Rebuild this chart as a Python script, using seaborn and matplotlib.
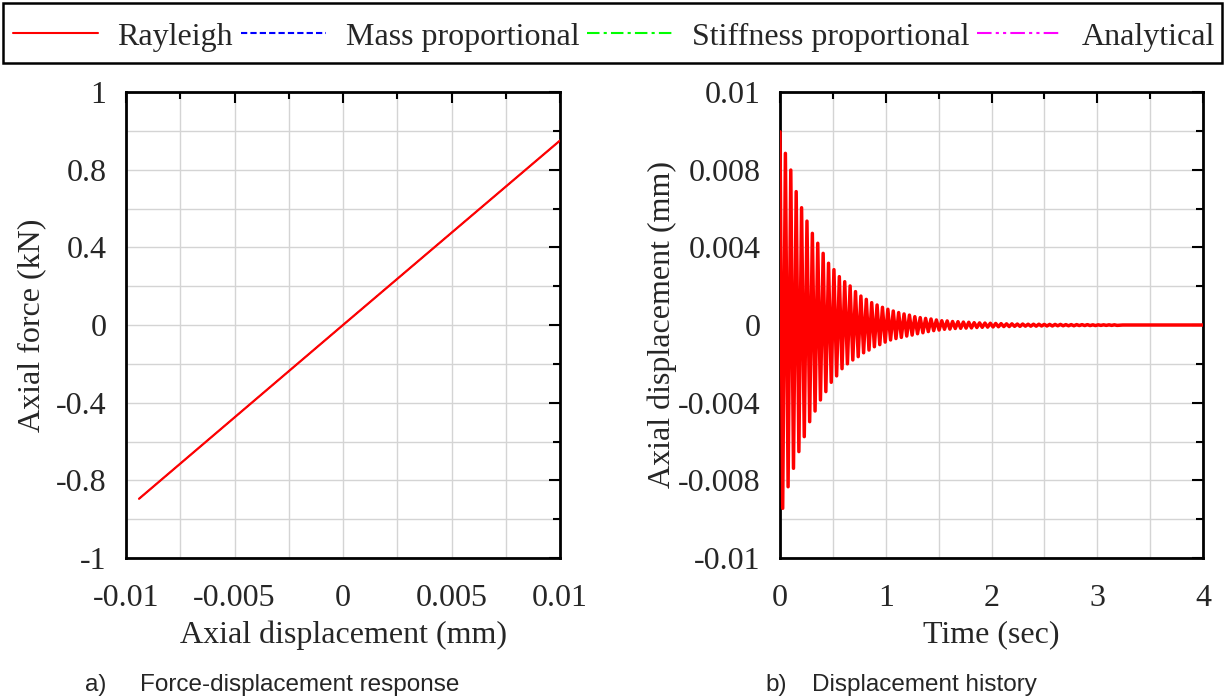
import numpy as np
import pandas as pd
import matplotlib
matplotlib.use("Agg")
import matplotlib.pyplot as plt
import seaborn as sns
from matplotlib.ticker import MultipleLocator, FormatStrFormatter
from matplotlib.lines import Line2D
from matplotlib.patches import Rectangle

sns.set_theme(style="white")
plt.rcParams["font.family"] = ["Liberation Serif", "DejaVu Serif"]

# ---- force-displacement response (linear elastic element) ----
fd_disp = [-0.0094, 0.0, 0.0100]      # mm
fd_force = [-0.895, 0.0, 0.950]       # kN

# ---- free-vibration displacement history ----
period = 0.051                        # s, one oscillation cycle
crest = [0.00995, 0.00884, 0.00798, 0.00687, 0.00604, 0.00535, 0.00472, 0.00421,
         0.00369, 0.00318, 0.00285, 0.00249, 0.00223, 0.00201, 0.00172, 0.00149,
         0.00132, 0.00115, 0.00103, 0.00091, 0.00081, 0.00072, 0.00064, 0.00057,
         0.00051, 0.00043, 0.00038, 0.00034, 0.00031, 0.00026, 0.00022, 0.00021,
         0.00018, 0.00017, 0.00015, 0.00014, 0.00012, 0.00011, 0.00010, 0.00009,
         0.00008, 0.00007, 0.00006, 0.00006, 0.00005, 0.00005, 0.00004, 0.00004,
         0.00004, 0.00003, 0.00003, 0.00003, 0.00003, 0.00002, 0.00002, 0.00002,
         0.00002, 0.00002, 0.00001, 0.00001, 0.00001, 0.00001, 0.00001]
trough = [-0.00944, -0.00833, -0.00738, -0.00652, -0.00575, -0.00498, -0.00443, -0.00386,
          -0.00343, -0.00295, -0.00262, -0.00225, -0.00200, -0.00180, -0.00163, -0.00143,
          -0.00129, -0.00112, -0.00101, -0.00088, -0.00077, -0.00070, -0.00064, -0.00057,
          -0.00052, -0.00045, -0.00040, -0.00034, -0.00029, -0.00026, -0.00022, -0.00021,
          -0.00018, -0.00017, -0.00016, -0.00015, -0.00013, -0.00012, -0.00011, -0.00010,
          -0.00009, -0.00008, -0.00008, -0.00007, -0.00007, -0.00006, -0.00006, -0.00006,
          -0.00005, -0.00005, -0.00005, -0.00004, -0.00004, -0.00004, -0.00004, -0.00003,
          -0.00003, -0.00003, -0.00003, -0.00002, -0.00002, -0.00002, -0.00002]
tail_time = [3.24, 4.0]
tail_disp = [0.0, 0.0]

series_names = ["Rayleigh", "Mass proportional", "Stiffness proportional", "Analytical"]
series_colors = ["#ff0000", "#0000ff", "#00ff00", "#ff00ff"]
series_dashes = ["", (3, 1.5), (6, 2, 1.5, 2), (7, 2, 1.5, 2, 1.5, 2)]

x_ticks_fd = [-0.01, -0.005, 0, 0.005, 0.01]
y_ticks_fd = [-1.2, -0.8, -0.4, 0, 0.4, 0.8, 1.2]
x_ticks_th = [0, 1, 2, 3, 4]
y_ticks_th = [-0.012, -0.008, -0.004, 0, 0.004, 0.008, 0.012]

# assemble the history samples (crest, trough alternating)
hist_t, hist_u = [], []
for k, (c, tr) in enumerate(zip(crest, trough)):
    hist_t += [k * period, (k + 0.5) * period]
    hist_u += [c, tr]
hist_t += tail_time
hist_u += tail_disp

palette = dict(zip(series_names, series_colors))
dashes = dict(zip(series_names, series_dashes))

W, H = 1225, 700
fig = plt.figure(figsize=(W / 100, H / 100), dpi=100)
ax1 = fig.add_axes([126 / W, 1 - 558 / H, 434 / W, 466 / H])
ax2 = fig.add_axes([780 / W, 1 - 558 / H, 423 / W, 466 / H])

# comparison series underneath, Rayleigh drawn last on top
for name in series_names[::-1]:
    top = name == "Rayleigh"
    fd_df = pd.DataFrame({"disp": fd_disp, "force": fd_force, "series": name})
    th_df = pd.DataFrame({"time": hist_t, "disp": hist_u, "series": name})
    sns.lineplot(data=fd_df, x="disp", y="force", hue="series", style="series",
                 palette=palette, dashes=dashes, sort=False, estimator=None,
                 linewidth=1.6 if top else 0.8, legend=False, ax=ax1, zorder=3)
    sns.lineplot(data=th_df, x="time", y="disp", hue="series", style="series",
                 palette=palette, dashes=dashes, sort=False, estimator=None,
                 linewidth=2.5 if top else 0.8, legend=False, ax=ax2, zorder=3)

fmt = FormatStrFormatter("%.1g")
tick_fs = 23
for ax, xt, yt, xminor, yminor in [
        (ax1, x_ticks_fd, y_ticks_fd, 0.0025, 0.2),
        (ax2, x_ticks_th, y_ticks_th, 0.5, 0.002)]:
    ax.set_xlim(xt[0], xt[-1])
    ax.set_ylim(yt[0], yt[-1])
    ax.set_xticks(xt)
    ax.set_yticks(yt)
    ax.xaxis.set_minor_locator(MultipleLocator(xminor))
    ax.yaxis.set_minor_locator(MultipleLocator(yminor))
    ax.xaxis.set_major_formatter(fmt)
    ax.yaxis.set_major_formatter(fmt)
    ax.grid(which="both", color="#d4d4d4", linewidth=1.0)
    ax.set_axisbelow(True)
    ax.tick_params(which="both", direction="in", top=True, right=True,
                   color="black", width=1.5, labelsize=tick_fs)
    ax.tick_params(which="major", length=8)
    ax.tick_params(which="minor", length=5)
    ax.tick_params(axis="x", which="major", pad=19)
    ax.tick_params(axis="y", which="major", pad=14)
    for sp in ax.spines.values():
        sp.set_color("black")
        sp.set_linewidth(2)
        sp.set_zorder(2.5)

ax1.set_xlabel("Axial displacement (mm)", fontsize=23)
ax1.set_ylabel("Axial force (kN)", fontsize=23)
ax2.set_xlabel("Time (sec)", fontsize=23)
ax2.set_ylabel("Axial displacement (mm)", fontsize=23)
ax1.xaxis.set_label_coords(0.5, (558 - 635) / 466)
ax2.xaxis.set_label_coords(0.5, (558 - 635) / 466)
ax1.yaxis.set_label_coords((32 - 126) / 434, 0.5)
ax2.yaxis.set_label_coords((662 - 780) / 423, 0.5)
for ax in (ax1, ax2):
    ax.xaxis.label.set_va("center")
    ax.yaxis.label.set_va("center")

# shared legend across the top, inside a plain rectangular frame
handles = [Line2D([], [], color=c, linewidth=1.5,
                  linestyle="-" if d == "" else (0, d))
           for c, d in zip(series_colors, series_dashes)]
fig.legend(handles, series_names, loc="center",
           bbox_to_anchor=(614 / W, 1 - 37 / H), ncol=4, fontsize=23,
           frameon=False, handlelength=2.65, handletextpad=0.62,
           columnspacing=0.25, borderpad=0.0, borderaxespad=0)
fig.patches.append(Rectangle((3 / W, 1 - 63 / H), 1219 / W, 60 / H,
                             transform=fig.transFigure, fill=False,
                             edgecolor="black", linewidth=1.8))

# panel captions
cap = dict(fontsize=17.5, family=["Liberation Sans", "DejaVu Sans"], va="center", ha="left")
fig.text(85 / W, 1 - 685 / H, "a)", **cap)
fig.text(140 / W, 1 - 685 / H, "Force-displacement response", **cap)
fig.text(765 / W, 1 - 685 / H, "b)", **cap)
fig.text(812 / W, 1 - 685 / H, "Displacement history", **cap)

fig.savefig("out.png", dpi=100, facecolor="white")
